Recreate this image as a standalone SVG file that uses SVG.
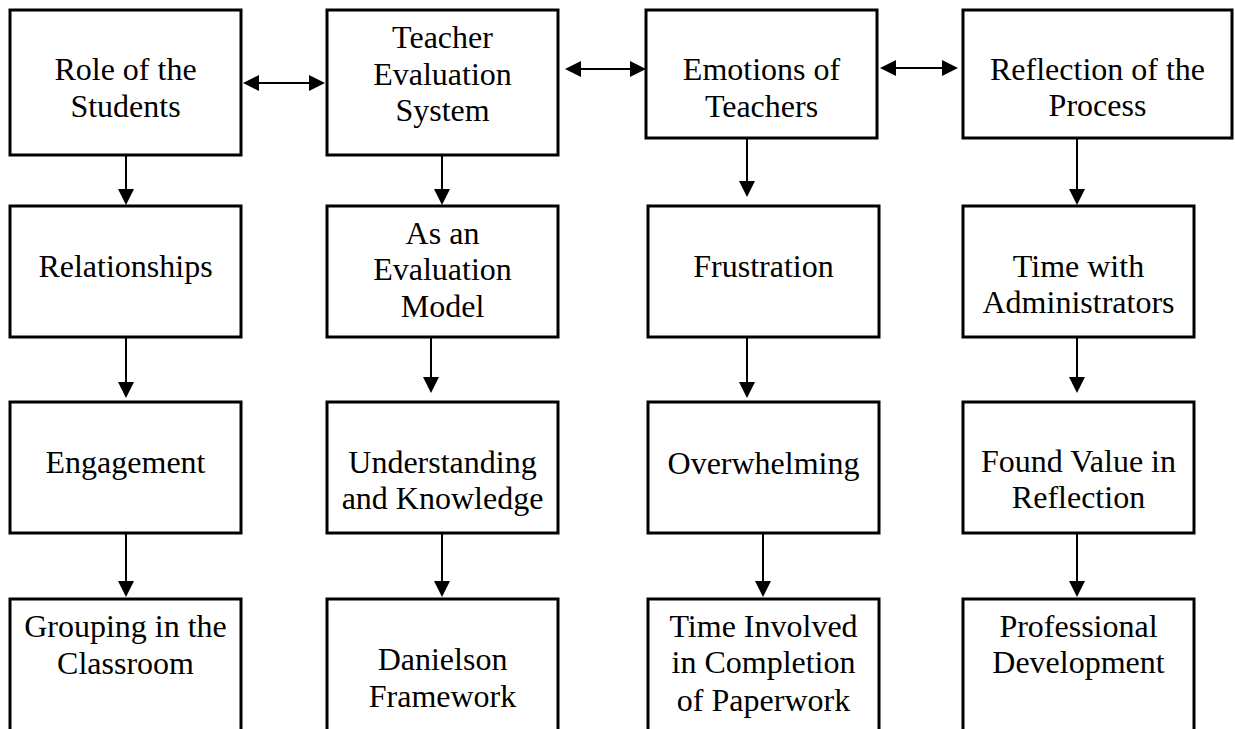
<svg xmlns="http://www.w3.org/2000/svg" width="1235" height="729" viewBox="0 0 1235 729">
<defs>
<marker id="ah" markerUnits="userSpaceOnUse" markerWidth="16" markerHeight="16" refX="0" refY="8" orient="auto-start-reverse" viewBox="0 0 16 16">
<path d="M0,0 L16,8 L0,16 z" fill="#000"/>
</marker>
<style>
.box{fill:#fff;stroke:#000;stroke-width:3}
.t{font-family:'Liberation Serif','Tinos','Times New Roman','DejaVu Serif',serif;font-size:32px;fill:#000;text-anchor:middle}
.c{stroke:#000;stroke-width:2;fill:none;marker-end:url(#ah)}
.d{stroke:#000;stroke-width:2;fill:none;marker-end:url(#ah);marker-start:url(#ah)}
</style>
</defs>
<rect width="1235" height="729" fill="#fff"/>
<g id="connectors">
<line class="d" x1="259" y1="83" x2="309" y2="83"/>
<line class="d" x1="581" y1="69" x2="630" y2="69"/>
<line class="d" x1="896" y1="68" x2="942" y2="68"/>
<line class="c" x1="126" y1="155" x2="126" y2="189"/>
<line class="c" x1="442" y1="155" x2="442" y2="189"/>
<line class="c" x1="747" y1="138" x2="747" y2="181"/>
<line class="c" x1="1077" y1="138" x2="1077" y2="189"/>
<line class="c" x1="126" y1="337" x2="126" y2="382"/>
<line class="c" x1="431" y1="333" x2="431" y2="377"/>
<line class="c" x1="747" y1="337" x2="747" y2="382"/>
<line class="c" x1="1077" y1="333" x2="1077" y2="377"/>
<line class="c" x1="126" y1="533" x2="126" y2="581"/>
<line class="c" x1="442" y1="532" x2="442" y2="581"/>
<line class="c" x1="763" y1="532" x2="763" y2="581"/>
<line class="c" x1="1077" y1="532" x2="1077" y2="581"/>
</g>
<g id="n-role"><rect class="box" x="10" y="10" width="231" height="145"/><text class="t" font-family="Liberation Serif, serif" x="125.5" y="80">Role of the</text><text class="t" x="125.5" y="117">Students</text></g>
<g id="n-tes"><rect class="box" x="327" y="10" width="231" height="145"/><text class="t" x="442.5" y="48">Teacher</text><text class="t" x="442.5" y="85">Evaluation</text><text class="t" x="442.5" y="121">System</text></g>
<g id="n-emotions"><rect class="box" x="646" y="10" width="231" height="128"/><text class="t" x="761.5" y="80">Emotions of</text><text class="t" x="761.5" y="117">Teachers</text></g>
<g id="n-reflection"><rect class="box" x="963" y="10" width="269" height="128"/><text class="t" x="1097.5" y="80">Reflection of the</text><text class="t" x="1097.5" y="116">Process</text></g>
<g id="n-relationships"><rect class="box" x="10" y="206" width="231" height="131"/><text class="t" x="125.5" y="277">Relationships</text></g>
<g id="n-model"><rect class="box" x="327" y="206" width="231" height="131"/><text class="t" x="442.5" y="244">As an</text><text class="t" x="442.5" y="280">Evaluation</text><text class="t" x="442.5" y="317">Model</text></g>
<g id="n-frustration"><rect class="box" x="648" y="206" width="231" height="131"/><text class="t" x="763.5" y="277">Frustration</text></g>
<g id="n-timeadmin"><rect class="box" x="963" y="206" width="231" height="131"/><text class="t" x="1078.5" y="277">Time with</text><text class="t" x="1078.5" y="313">Administrators</text></g>
<g id="n-engagement"><rect class="box" x="10" y="402" width="231" height="131"/><text class="t" x="125.5" y="473">Engagement</text></g>
<g id="n-understanding"><rect class="box" x="327" y="402" width="231" height="131"/><text class="t" x="442.5" y="473">Understanding</text><text class="t" x="442.5" y="509">and Knowledge</text></g>
<g id="n-overwhelming"><rect class="box" x="648" y="402" width="231" height="131"/><text class="t" x="763.5" y="474">Overwhelming</text></g>
<g id="n-foundvalue"><rect class="box" x="963" y="402" width="231" height="131"/><text class="t" x="1078.5" y="472">Found Value in</text><text class="t" x="1078.5" y="508">Reflection</text></g>
<g id="n-grouping"><rect class="box" x="10" y="599" width="231" height="160"/><text class="t" x="125.5" y="637">Grouping in the</text><text class="t" x="125.5" y="674">Classroom</text></g>
<g id="n-danielson"><rect class="box" x="327" y="599" width="231" height="160"/><text class="t" x="442.5" y="670">Danielson</text><text class="t" x="442.5" y="707">Framework</text></g>
<g id="n-timeinvolved"><rect class="box" x="648" y="599" width="231" height="160"/><text class="t" x="763.5" y="637">Time Involved</text><text class="t" x="763.5" y="673">in Completion</text><text class="t" x="763.5" y="711">of Paperwork</text></g>
<g id="n-profdev"><rect class="box" x="963" y="599" width="231" height="160"/><text class="t" x="1078.5" y="637">Professional</text><text class="t" x="1078.5" y="673">Development</text></g>
</svg>
